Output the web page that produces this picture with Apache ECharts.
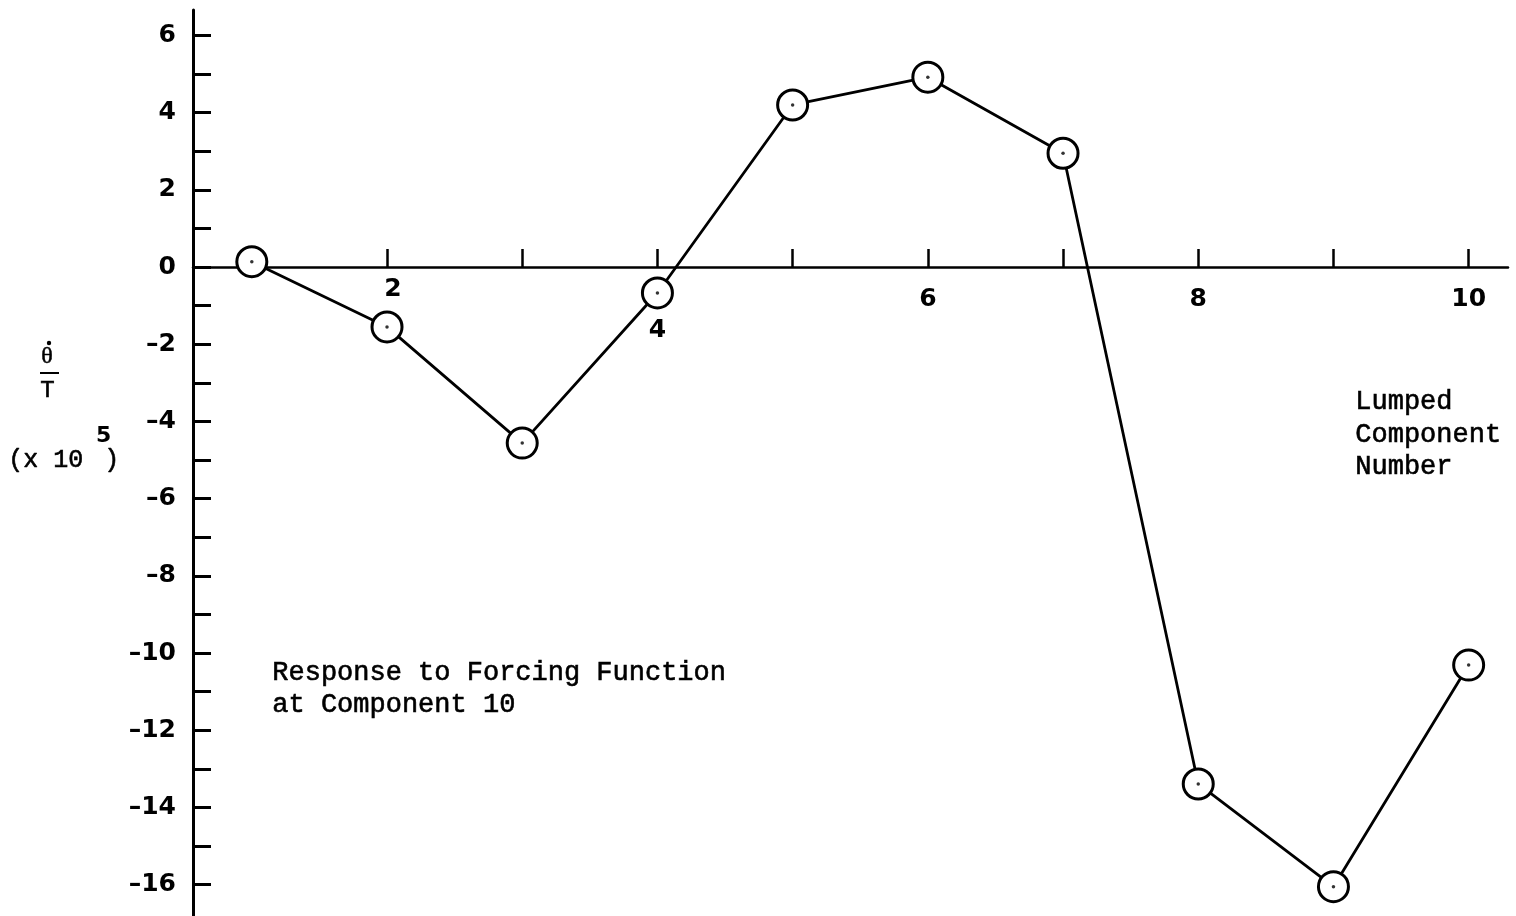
<!DOCTYPE html>
<html>
<head>
<meta charset="utf-8">
<script src="https://cdn.jsdelivr.net/npm/echarts@6/dist/echarts.min.js"></script>
<style>
  html, body { margin: 0; padding: 0; background: #fff; }
  #chart { width: 1516px; height: 916px; }
</style>
</head>
<body>
<div id="chart"></div>
<script>
// Lumped component number and the response theta-dot / T (x 10^5)
const components = [1, 2, 3, 4, 5, 6, 7, 8, 9, 10];
const response = [0.14, -1.55, -4.56, -0.67, 4.2, 4.92, 2.95, -13.39, -16.05, -10.31];

// Tick marks and labelled ticks on each axis
const xTicks = [2, 3, 4, 5, 6, 7, 8, 9, 10];
const xLabels = [2, 4, 6, 8, 10];
const yTicks = [-16, -15, -14, -13, -12, -11, -10, -9, -8, -7, -6, -5, -4, -3, -2, -1, 0, 1, 2, 3, 4, 5, 6];
const yLabels = [-16, -14, -12, -10, -8, -6, -4, -2, 0, 2, 4, 6];

const points = components.map((c, i) => [c, response[i]]);

const X_MIN = 0.565, X_MAX = 10.291;
const Y_MIN = -16.81, Y_MAX = 6.66;

const INK = '#000';
const TYPE = 'Liberation Mono';
const TICKFONT = 'DejaVu Sans';
const TICKSIZE = 25;

const chart = echarts.init(document.getElementById('chart'), null, { renderer: 'canvas' });

// the x axis (line, ticks, numbers) sits on the zero line of the y scale:
// a second grid whose lower edge lies at y = 0 carries it
const plotTop = 10, plotHeight = 906;
const zeroFromTop = plotHeight * Y_MAX / (Y_MAX - Y_MIN);

const tickText = { fontFamily: TICKFONT, fontWeight: 'bold', fontSize: TICKSIZE, color: INK };

chart.setOption({
  backgroundColor: '#fff',
  animation: false,
  grid: [
    { left: 193, right: 8, top: plotTop, height: plotHeight, outerBoundsMode: 'none', containLabel: false },
    { left: 193, right: 8, top: plotTop, height: zeroFromTop, outerBoundsMode: 'none', containLabel: false }
  ],
  xAxis: [
    {
      gridIndex: 0, type: 'value', min: X_MIN, max: X_MAX, show: false
    },
    {
      gridIndex: 1,
      type: 'value',
      min: X_MIN,
      max: X_MAX,
      position: 'bottom',
      axisLine: { onZero: false, lineStyle: { color: INK, width: 2.5 } },
      axisTick: { customValues: xTicks, inside: true, length: 18, lineStyle: { color: INK, width: 2.5 } },
      axisLabel: Object.assign({}, tickText, {
        customValues: xLabels,
        margin: 10,
        formatter: v => (v === 4 ? '{low|4}' : v === 2 ? '{near|2}' : '{mid|' + v + '}'),
        rich: {
          near: Object.assign({}, tickText, { padding: [0, 0, 0, 12] }),
          mid: Object.assign({}, tickText, { padding: [10, 0, 0, 0] }),
          low: Object.assign({}, tickText, { padding: [41, 0, 0, 0] })
        }
      }),
      splitLine: { show: false }
    }
  ],
  yAxis: [
    {
      gridIndex: 0,
      type: 'value',
      min: Y_MIN,
      max: Y_MAX,
      axisLine: { onZero: false, lineStyle: { color: INK, width: 3 } },
      axisTick: { customValues: yTicks, inside: true, length: 18, lineStyle: { color: INK, width: 3 } },
      axisLabel: Object.assign({}, tickText, {
        customValues: yLabels,
        margin: 17,
        formatter: v => String(v).replace('-', '\u2013')
      }),
      splitLine: { show: false }
    },
    { gridIndex: 1, type: 'value', min: 0, max: 1, show: false }
  ],
  series: [
    {
      type: 'line',
      xAxisIndex: 0,
      yAxisIndex: 0,
      data: points,
      clip: false,
      lineStyle: { color: INK, width: 2.8 },
      symbol: 'circle',
      symbolSize: 30,
      itemStyle: { color: '#fff', borderColor: INK, borderWidth: 3 },
      z: 3
    },
    {
      type: 'scatter',
      xAxisIndex: 0,
      yAxisIndex: 0,
      data: points,
      symbol: 'circle',
      symbolSize: 3.5,
      itemStyle: { color: INK },
      silent: true,
      z: 5
    }
  ],
  graphic: [
    // y-axis quantity: theta-dot over T
    { type: 'text', left: 41, top: 344, style: { text: 'θ', font: '24px "Liberation Serif"', fill: INK, stroke: INK, lineWidth: 0.5 } },
    { type: 'circle', shape: { cx: 49, cy: 343, r: 2.2 }, style: { fill: INK } },
    { type: 'line', shape: { x1: 40, y1: 373, x2: 59, y2: 373 }, style: { stroke: INK, lineWidth: 2 } },
    { type: 'text', left: 40, top: 378, style: { text: 'T', font: '24px "Liberation Mono"', fill: INK, stroke: INK, lineWidth: 0.6 } },
    { type: 'text', left: 8, top: 448, style: { text: '(x 10', font: '25px "' + TYPE + '"', fill: INK, stroke: INK, lineWidth: 0.6 } },
    { type: 'text', left: 104, top: 448, style: { text: ')', font: '25px "' + TYPE + '"', fill: INK, stroke: INK, lineWidth: 0.6 } },
    { type: 'text', left: 96, top: 425, style: { text: '5', font: 'bold 22px "' + TICKFONT + '"', fill: INK } },
    // annotations
    {
      type: 'text', left: 272, top: 657,
      style: { text: 'Response to Forcing Function\nat Component 10', font: '27px "' + TYPE + '"', lineHeight: 32, fill: INK, stroke: INK, lineWidth: 0.6 }
    },
    {
      type: 'text', left: 1355, top: 386,
      style: { text: 'Lumped\nComponent\nNumber', font: '27px "' + TYPE + '"', lineHeight: 32.5, fill: INK, stroke: INK, lineWidth: 0.6 }
    }
  ]
});
</script>
</body>
</html>
